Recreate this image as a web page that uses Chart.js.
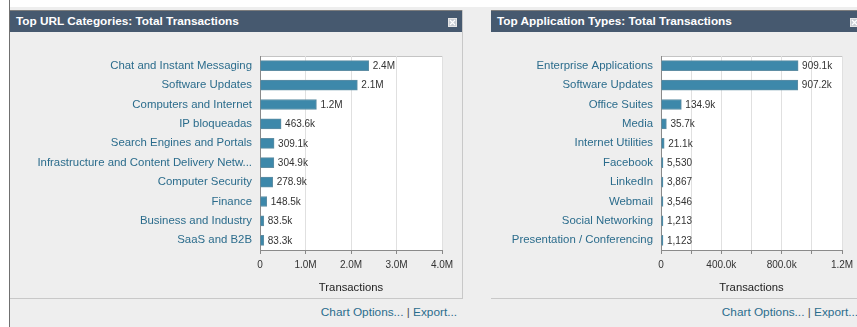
<!DOCTYPE html>
<html><head><meta charset="utf-8">
<script src="https://cdn.jsdelivr.net/npm/chart.js@4.4.1/dist/chart.umd.min.js"></script>
<style>
html,body{margin:0;padding:0;width:857px;height:327px;overflow:hidden;background:#fff;font-family:"Liberation Sans",Arial,sans-serif;}
#bg{position:absolute;left:10px;top:7px;right:0;bottom:0;background:#eeeeee;}
#vline{position:absolute;left:9px;top:0;width:1px;height:327px;background:#707070;}
.panel{position:absolute;top:10px;width:452px;height:288px;border-right:1px solid #c8c8c8;border-bottom:1px solid #c8c8c8;background:#eeeeee;}
.hdr{position:absolute;left:0;top:0;right:0;height:22px;background:#46596f;border-top:1px solid #7d7d7d;color:#fff;font-weight:bold;font-size:11.8px;line-height:21px;padding-left:6px;box-sizing:border-box;white-space:nowrap;}
.close{position:absolute;top:7px;width:9px;height:9px;}
.panel canvas{position:absolute;left:0;top:23px;}
.links{position:absolute;top:305px;font-size:11.8px;color:#2a6d8d;white-space:nowrap;text-align:right;}
.links span{color:#555;}
</style></head>
<body>
<div id="bg"></div>
<div id="vline"></div>

<div class="panel" style="left:10px;">
  <div class="hdr">Top URL Categories: Total Transactions
    <svg class="close" style="left:438px" viewBox="0 0 9 9"><rect x="0.5" y="0.5" width="8" height="8" fill="#c7ccd3" stroke="#e6e6e6"/><path d="M2 2L7 7M7 2L2 7" stroke="#fff" stroke-width="1.2"/></svg>
  </div>
  <canvas id="c1" width="452" height="264"></canvas>
</div>
<div class="links" style="left:250px;width:207px;">Chart Options... <span>|</span> Export...</div>

<div class="panel" style="left:491px;">
  <div class="hdr">Top Application Types: Total Transactions
    <svg class="close" style="left:359px" viewBox="0 0 9 9"><rect x="0.5" y="0.5" width="8" height="8" fill="#c7ccd3" stroke="#e6e6e6"/><path d="M2 2L7 7M7 2L2 7" stroke="#fff" stroke-width="1.2"/></svg>
  </div>
  <canvas id="c2" width="452" height="264"></canvas>
</div>
<div class="links" style="left:650px;width:208px;">Chart Options... <span>|</span> Export...</div>

<script>
// ---- Data: Top URL Categories ----
const urlCategories = ["Chat and Instant Messaging","Software Updates","Computers and Internet","IP bloqueadas","Search Engines and Portals","Infrastructure and Content Delivery Netw...","Computer Security","Finance","Business and Industry","SaaS and B2B"];
const urlValues = [2390000, 2140000, 1240000, 463600, 309100, 304900, 278900, 148500, 83500, 83300];
const urlValueLabels = ["2.4M","2.1M","1.2M","463.6k","309.1k","304.9k","278.9k","148.5k","83.5k","83.3k"];
const urlTickValues = [0, 1000000, 2000000, 3000000, 4000000];
const urlTickLabels = ["0","1.0M","2.0M","3.0M","4.0M"];

// ---- Data: Top Application Types ----
const appCategories = ["Enterprise Applications","Software Updates","Office Suites","Media","Internet Utilities","Facebook","LinkedIn","Webmail","Social Networking","Presentation / Conferencing"];
const appValues = [909100, 907200, 134900, 35700, 21100, 5530, 3867, 3546, 1213, 1123];
const appValueLabels = ["909.1k","907.2k","134.9k","35.7k","21.1k","5,530","3,867","3,546","1,213","1,123"];
const appTickValues = [0, 200000, 400000, 600000, 800000, 1000000, 1200000];
const appTickLabels = ["0","","400.0k","","800.0k","","1.2M"];

const FAMILY = '"Liberation Sans", Arial, sans-serif';

const plotBg = {
  id:'plotBg',
  beforeDraw(chart){
    const {ctx, chartArea:a} = chart;
    ctx.save();
    ctx.fillStyle = '#ffffff';
    ctx.fillRect(a.left, a.top, a.right-a.left, a.bottom-a.top);
    ctx.strokeStyle = '#c4c4c4';
    ctx.lineWidth = 1;
    ctx.beginPath();
    ctx.moveTo(a.left, Math.round(a.top)+0.5);
    ctx.lineTo(a.right, Math.round(a.top)+0.5);
    ctx.stroke();
    ctx.restore();
  }
};
const valueLabels = {
  id:'valueLabels',
  afterDatasetsDraw(chart, args, opts){
    const {ctx} = chart;
    const meta = chart.getDatasetMeta(0);
    ctx.save();
    ctx.font = '10px ' + FAMILY;
    ctx.fillStyle = '#333333';
    ctx.textBaseline = 'middle';
    ctx.textAlign = 'left';
    meta.data.forEach((bar,i)=>{
      ctx.fillText(opts.labels[i], bar.x + 4, bar.y + 0.5);
    });
    ctx.restore();
  }
};

function makeChart(id, cats, vals, labels, tickVals, tickLabels, maxV, padRight, yWidth){
  return new Chart(document.getElementById(id), {
    type:'bar',
    data:{labels:cats, datasets:[{data:vals, backgroundColor:'#3d88aa', borderColor:'#5f8ea4', borderWidth:1, borderSkipped:'left', barThickness:10, minBarLength:2}]},
    options:{
      indexAxis:'y', responsive:false, animation:false, devicePixelRatio:1,
      layout:{padding:{top:23,right:padRight,left:0,bottom:0}},
      plugins:{legend:{display:false}, tooltip:{enabled:false}, valueLabels:{labels:labels}},
      scales:{
        x:{min:0, max:maxV,
           afterBuildTicks:s=>{s.ticks = tickVals.map(v=>({value:v}));},
           ticks:{autoSkip:false, maxRotation:0, color:'#333', font:{size:10,family:FAMILY}, padding:5,
                  callback:(v,i)=>tickLabels[i]},
           grid:{color:'#e0e0e0', tickColor:'#888', tickLength:4},
           border:{color:'#8a8a8a'},
           title:{display:true, text:'Transactions', color:'#222', font:{size:11.3,family:FAMILY}, padding:{top:0,bottom:2}},
           afterFit:s=>{s.height = 47;}},
        y:{grid:{display:false, drawTicks:false}, border:{display:true,color:'#8a8a8a'},
           ticks:{autoSkip:false, color:'#2b6c8c', font:{size:11.4,family:FAMILY}, padding:8},
           afterFit:s=>{s.width = yWidth;}}
      }
    },
    plugins:[plotBg, valueLabels]
  });
}
makeChart('c1', urlCategories, urlValues, urlValueLabels, urlTickValues, urlTickLabels, 4000000, 20, 250);
makeChart('c2', appCategories, appValues, appValueLabels, appTickValues, appTickLabels, 1200000, 101, 170);
</script>
</body></html>
